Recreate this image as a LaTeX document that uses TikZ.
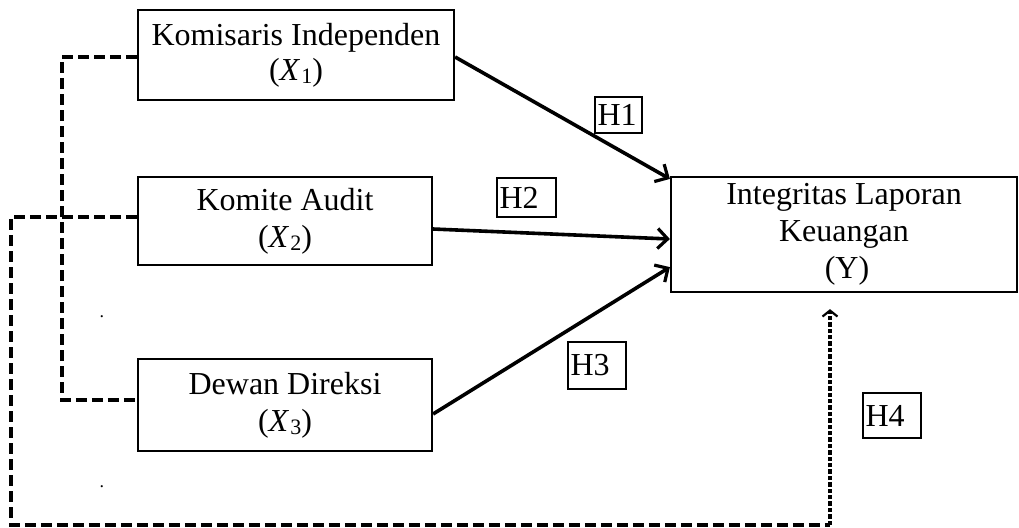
\documentclass[tikz,border=0pt]{standalone}
\usepackage{fontspec}
\setmainfont{Liberation Serif}
\usetikzlibrary{arrows.meta,calc}
\newcommand{\varX}[1]{(\textit{X}\kern0.5pt\raisebox{-1.5pt}{\fontsize{11}{11}\selectfont #1})}
\begin{document}
\begin{tikzpicture}[x=0.5pt,y=-0.5pt,
  vbox/.style={draw, line width=1.1pt, align=center, inner sep=0pt,
    font=\fontsize{16}{18.5}\selectfont},
  hlab/.style={draw, line width=0.75pt, inner xsep=1.2pt, inner ysep=0pt, align=left,
    font=\fontsize{16}{18}\selectfont},
  solidarrow/.style={line width=1.8pt, -{Straight Barb[length=5pt,width=10pt,line width=1.6pt]}},
  bolddash/.style={line width=1.9pt, dash pattern=on 5.5pt off 2.5pt},
  finedash/.style={line width=1.7pt, dash pattern=on 2.2pt off 1pt,
    -{Straight Barb[length=3pt,width=7.5pt,line width=1.1pt]}},
  dotmark/.style={font=\fontsize{9}{9}\selectfont, inner sep=0pt}
]
\useasboundingbox (0,0) rectangle (1019,527);

% main boxes
\node[vbox, minimum width=158pt, minimum height=45pt] (X1) at (296,55)
  {Komisaris Independen\\[-1pt]\varX{1}};
\node[vbox, minimum width=147pt, minimum height=44pt] (X2) at (285,221)
  {Komite Audit\\\varX{2}};
\node[vbox, minimum width=147pt, minimum height=46pt] (X3) at (285,405)
  {Dewan Direksi\\\varX{3}};
\node[vbox, minimum width=173pt, minimum height=57.5pt] (Y) at (844,234.5)
  {Integritas Laporan\\Keuangan\\\hspace*{3pt}(Y)};

% hypothesis labels
\node[hlab, minimum width=23.5pt, minimum height=18pt, text width=21pt] (H1) at (618.5,115) {H1};
\node[hlab, minimum width=29.5pt, minimum height=19.5pt, text width=27pt] (H2) at (526.5,197.5) {H2};
\node[hlab, minimum width=29pt, minimum height=23.5pt, text width=26.5pt] (H3) at (597,365.5) {H3};
\node[hlab, minimum width=29pt, minimum height=22.5pt, text width=26.5pt] (H4) at (892,415.5) {H4};

% stray dots
\node[dotmark] (dotA) at (102,317) {.};
\node[dotmark] (dotB) at (102,487) {.};

% solid arrows
\draw[solidarrow] ($(X1.east)+(0,2)$) -- ($(Y.north west)+(0,3)$);
\draw[solidarrow] ($(X2.east)+(0,8)$) -- ($(Y.west)+(0,4.5)$);
\draw[solidarrow] ($(X3.east)+(0,9)$) -- ($(Y.south west)+(0,-26)$);

% dashed connectors
\draw[bolddash] ($(X1.west)+(0,2)$) -- ++(-75,0) |- ($(X3.west)+(0,-5)$);
\coordinate (corner) at (830,525);
\draw[bolddash] ($(X2.west)+(0,-4)$) -- ++(-126,0) |- (corner);
\draw[finedash] (corner) -- ($(Y.south)+(-14,16)$);
\end{tikzpicture}
\end{document}
